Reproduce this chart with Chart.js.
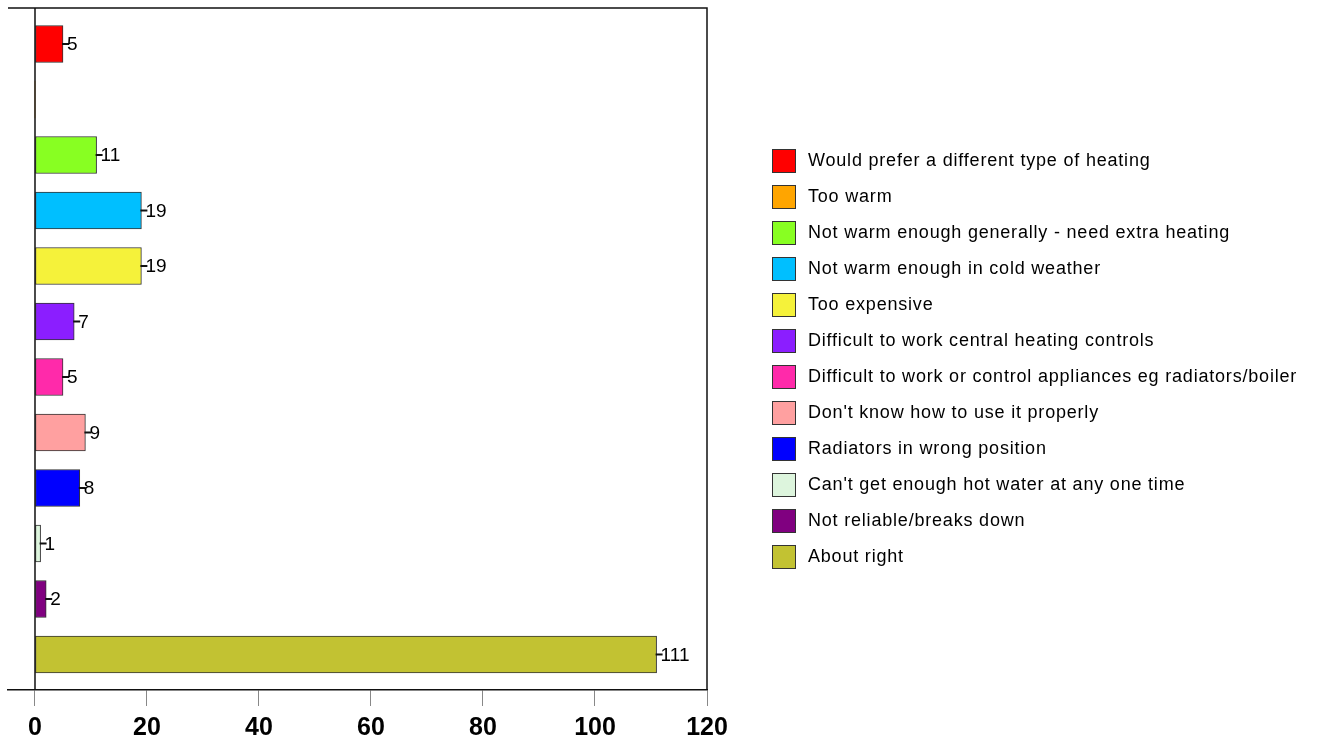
<!DOCTYPE html>
<html><head><meta charset="utf-8">
<script src="https://cdn.jsdelivr.net/npm/chart.js@4/dist/chart.umd.min.js"></script>
<style>html,body{margin:0;padding:0;background:#fff}#wrap{width:1317px;height:744px}</style>
</head><body><div id="wrap"><canvas id="c" width="1317" height="744"></canvas></div>
<script>
const categories = [
  "Would prefer a different type of heating",
  "Too warm",
  "Not warm enough generally - need extra heating",
  "Not warm enough in cold weather",
  "Too expensive",
  "Difficult to work central heating controls",
  "Difficult to work or control appliances eg radiators/boiler",
  "Don't know how to use it properly",
  "Radiators in wrong position",
  "Can't get enough hot water at any one time",
  "Not reliable/breaks down",
  "About right"
];
const values = [5, 0, 11, 19, 19, 7, 5, 9, 8, 1, 2, 111];
const colors = ["#FF0000", "#FFA500", "#88FF22", "#00BFFF", "#F5F23A", "#8B1EFF",
                "#FF2AAA", "#FFA0A0", "#0000FF", "#DDF5DD", "#800080", "#C2C232"];
const xTickValues = [0, 20, 40, 60, 80, 100, 120];

const FONT = "Arial, 'Liberation Sans', sans-serif";

const framePlugin = {
  id: 'frame',
  afterDatasetsDraw(chart) {
    const {ctx, chartArea: a, scales: {x}} = chart;
    ctx.save();
    ctx.strokeStyle = '#111';
    ctx.lineWidth = 1.5;
    ctx.beginPath();
    ctx.moveTo(a.left, a.top); ctx.lineTo(a.right, a.top); ctx.lineTo(a.right, a.bottom);
    const zx = x.getPixelForValue(0);
    ctx.moveTo(zx, a.top); ctx.lineTo(zx, a.bottom);
    ctx.stroke();
    // value labels
    const meta = chart.getDatasetMeta(0);
    ctx.font = '19px ' + FONT;
    ctx.fillStyle = '#000';
    ctx.textBaseline = 'middle';
    ctx.textAlign = 'left';
    meta.data.forEach((bar, i) => {
      if (!values[i]) return;
      ctx.beginPath();
      ctx.lineWidth = 2;
      ctx.moveTo(bar.x - 1, bar.y); ctx.lineTo(bar.x + 6, bar.y);
      ctx.stroke();
      ctx.fillText(String(values[i]), bar.x + 4, bar.y + 1);
    });
    ctx.restore();
  },
  afterDraw(chart) {
    const {ctx} = chart;
    ctx.save();
    ctx.font = '18px ' + FONT;
    ctx.letterSpacing = '0.8px';
    ctx.textBaseline = 'middle';
    ctx.textAlign = 'left';
    categories.forEach((c, i) => {
      const cy = 161 + i * 36;
      ctx.fillStyle = colors[i];
      ctx.fillRect(772, cy - 12, 24, 24);
      ctx.strokeStyle = '#333';
      ctx.lineWidth = 1;
      ctx.strokeRect(772.5, cy - 11.5, 23, 23);
      ctx.fillStyle = '#000';
      ctx.fillText(c, 808, cy);
    });
    ctx.restore();
  }
};

new Chart(document.getElementById('c'), {
  type: 'bar',
  data: {
    labels: categories,
    datasets: [{
      data: values.map((v, i) => ({x: v, y: i})),
      backgroundColor: colors,
      borderColor: '#333',
      borderWidth: values.map(v => v ? 1 : 0),
      borderSkipped: false,
      barThickness: 37
    }]
  },
  options: {
    responsive: false,
    animation: false,
    indexAxis: 'y',
    layout: {padding: {left: 8, top: 8, right: 610, bottom: 0}},
    plugins: {legend: {display: false}, tooltip: {enabled: false}},
    scales: {
      y: {type: 'linear', min: -0.649, max: 11.64, reverse: true, display: false, offset: false, grace: 0,
          afterBuildTicks: (scale) => { scale.ticks = [{value: -0.649}, {value: 11.64}]; }},
      x: {
        type: 'linear', min: -4.821, max: 120, offset: false,
        afterBuildTicks: (scale) => { scale.ticks = xTickValues.map(v => ({value: v})); },
        afterFit: (scale) => { scale.height = 54; },
        grid: {drawOnChartArea: false, drawTicks: true, tickLength: 16, color: '#888', lineWidth: 1},
        border: {display: true, color: '#111', width: 1.5},
        ticks: {font: {family: FONT, size: 25, weight: 'bold'}, color: '#000', padding: 7, maxRotation: 0, autoSkip: false}
      }
    }
  },
  plugins: [framePlugin]
});
</script></body></html>
